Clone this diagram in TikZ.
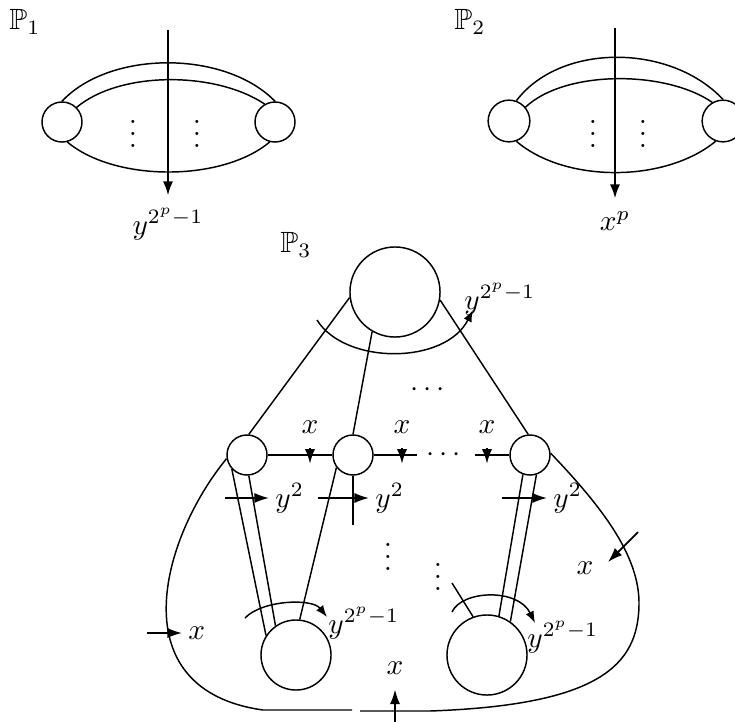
\documentclass[tikz,border=0pt]{standalone}
\usepackage{amsmath,amssymb}
\usetikzlibrary{arrows.meta,positioning,calc}

\begin{document}
\begin{tikzpicture}[
  x=0.012cm,y=-0.012cm,
  vtx/.style={circle,draw,line width=0.5pt,inner sep=0pt,minimum size=0.48cm},
  wire/.style={line width=0.5pt},
  tip/.style={-{Latex[length=5pt,width=3.5pt]},line width=0.6pt},
  cut/.style={tip,line width=1pt},
  turn/.style={wire,-{Latex[length=4pt,width=3pt]}},
  tag/.style={inner sep=2pt},
  arrlbl/.style={anchor=north,inner sep=4pt}
]
\useasboundingbox (0,0) rectangle (735,722);

% first picture
\node (P1) at (25,22) {$\mathbb{P}_1$};
\node[vtx] (L1) at (62,122) {};
\node[vtx] (R1) at (275,122) {};
\draw[wire] (L1.north) .. controls (110,50) and (225,50) .. (R1.north);
\draw[wire] (L1.45) .. controls (120,71) and (215,71) .. (R1.120);
\draw[wire] (L1.-75) .. controls (115,182) and (222,182) .. (R1.-105);
\node (d1a) at (133,125) {$\vdots$};
\node (d1b) at (197,125) {$\vdots$};
\coordinate (c1top) at (168,30);
\node[arrlbl] (c1) at (168,196) {$y^{2^p-1}$};
\draw[cut] (c1top) -- (c1.north);

% second picture
\node (P2) at (470,22) {$\mathbb{P}_2$};
\node[vtx,minimum size=0.5cm] (L2) at (509,121) {};
\node[vtx,minimum size=0.5cm] (R2) at (723,121) {};
\draw[wire] (L2.70) .. controls (560,43) and (670,43) .. (R2.north);
\draw[wire] (L2.40) .. controls (565,70) and (665,70) .. (R2.120);
\draw[wire] (L2.-70) .. controls (565,183) and (665,183) .. (R2.-110);
\node (d2a) at (593,125) {$\vdots$};
\node (d2b) at (643,125) {$\vdots$};
\coordinate (c2top) at (615,28);
\node[arrlbl] (c2) at (615,199) {$x^p$};
\draw[cut] (c2top) -- (c2.north);

% third picture
\node (P3) at (296,245) {$\mathbb{P}_3$};
\node[vtx,minimum size=1.08cm] (T) at (395,292) {};
\node[vtx] (A) at (247,455) {};
\node[vtx] (B) at (353,455) {};
\node[vtx] (C) at (530,455) {};
\node[vtx,minimum size=0.84cm] (D) at (296,655) {};
\node[vtx,minimum size=0.96cm] (E) at (487,655) {};

% spokes
\draw[wire] (T.187) -- (A.85);
\draw[wire] (T.240) -- (B.90);
\draw[wire] (T.-10) -- (C.95);
\node (dtop) at (430,390) {$\cdots$};

% turn round the top circle
\coordinate (ta) at (317,320);
\coordinate (tb) at (473,310);
\draw[turn] (ta) .. controls (345,365) and (445,365) .. (tb);
\node[anchor=west] (yT) at (454,299) {$y^{2^p-1}$};

% middle row
\coordinate (bm) at (417,455);
\coordinate (cm) at (475,455);
\draw[wire] (A.east) -- (B.west);
\draw[wire] (B.east) -- (bm);
\node (drow) at (446,455) {$\cdots$};
\draw[wire] (cm) -- (C.west);
\foreach \xx [count=\i] in {310,402,487} {
  \node[tag] (xr\i) at (\xx,427) {$x$};
  \draw[tip] (xr\i.south) ++(0,8) -- ++(0,16);
}
\coordinate (bs) at (353,525);
\draw[line width=1pt] (B.south) -- (bs);

% y^2 arrows
\foreach \xs/\xw [count=\i] in {225/269,318/369,502/547} {
  \node[tag,anchor=west] (ys\i) at (\xw,498) {$y^2$};
  \draw[tip] (\xs,498) -- (ys\i.west);
}

% legs
\draw[wire] (A.223) -- (D.147);
\draw[wire] (A.-85) -- (D.125);
\draw[wire] (B.217) -- (D.84);
\draw[wire] (C.250) -- (E.73);
\draw[wire] (C.-72) -- (E.55);
\node (dl) at (388,548) {$\vdots$};
\node (dr) at (438,568) {$\vdots$};

% turns round the lower circles
\draw[turn] (245,618) .. controls (262,600) and (312,598) .. (327,617);
\node[anchor=west] (yD) at (318,623) {$y^{2^p-1}$};
\coordinate (et) at (452,583);
\draw[wire] (et) -- (E.110);
\draw[turn] (452,612) .. controls (462,590) and (518,588) .. (535,623);
\node[anchor=west] (yE) at (517,637) {$y^{2^p-1}$};

% outer loop
\draw[wire] (A.190) .. controls (160,540) and (120,690) .. (263,710) -- (352,710);
\draw[wire] (C.5) .. controls (600,505) and (640,555) .. (639,605)
  .. controls (638,665) and (600,705) .. (430,711) -- (360,711);

% x marks on the loop
\node[tag,anchor=west] (xl) at (182,633) {$x$};
\draw[tip] (147,633) -- (xl.west);
\node[tag] (xq) at (585,568) {$x$};
\coordinate (xqs) at (638,532);
\draw[tip] (xqs) -- ++(-30,30);
\node[tag] (xb) at (395,668) {$x$};
\coordinate (xbs) at (395,735);
\draw[tip,shorten >=3pt] (xbs) -- (xb.south);
\end{tikzpicture}
\end{document}
